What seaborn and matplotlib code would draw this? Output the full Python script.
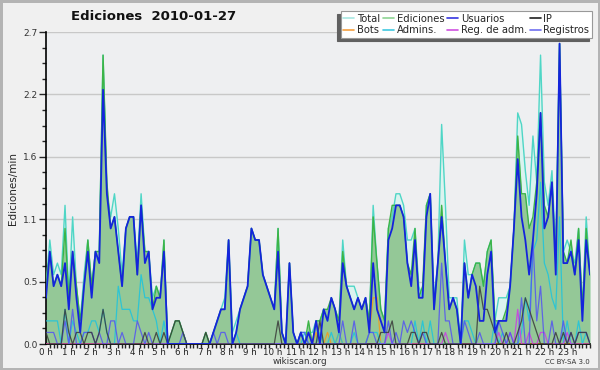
import numpy as np
import pandas as pd
import matplotlib
matplotlib.use("Agg")
import matplotlib.pyplot as plt
import seaborn as sns
from matplotlib.ticker import FixedLocator, MultipleLocator

# ---- data: edits per 10-minute slot (divided by 10 -> edits/min) ----
total = [5,9,6,7,6,12,4,11,5,2,6,9,
         5,8,8,25,13,11,13,10,6,10,11,11,
         7,13,8,8,4,5,4,9,0,1,2,2,
         1,0,0,0,0,0,1,0,1,2,3,4,
         9,1,2,3,4,5,10,9,9,6,5,4,
         3,10,1,0,7,1,0,1,1,1,1,2,
         2,3,2,4,3,2,9,5,5,5,4,3,
         4,2,12,7,3,2,10,11,13,13,12,9,
         9,10,5,4,12,13,4,7,19,12,4,4,
         4,0,9,6,6,7,7,5,8,9,2,4,
         4,4,5,10,20,19,15,12,18,14,25,14,
         12,15,8,26,8,9,8,7,10,3,11,6]
ediciones = [5,8,5,6,5,10,4,8,5,2,5,9,
             5,8,8,25,14,10,11,8,5,10,11,11,
             6,12,8,8,3,5,4,9,0,1,2,2,
             1,0,0,0,0,0,1,0,1,2,3,3,
             9,0,1,3,4,5,10,9,9,6,5,4,
             3,10,1,0,7,1,0,1,0,2,0,2,
             2,3,3,4,3,2,8,5,4,3,4,3,
             4,2,11,7,3,2,10,12,12,12,11,7,
             6,10,4,5,12,13,3,7,12,7,3,4,
             3,0,7,4,6,7,7,5,8,9,2,2,
             2,3,5,10,18,13,13,10,11,14,20,12,
             11,14,7,26,8,7,9,6,10,3,10,6]
usuarios = [4,8,5,6,5,7,3,8,4,1,5,8,
            4,8,7,22,13,10,11,8,5,10,11,11,
            6,12,7,8,3,4,4,8,0,0,0,0,
            0,0,0,0,0,0,0,0,1,2,3,3,
            9,0,1,3,4,5,10,9,9,6,5,4,
            3,8,1,0,7,1,0,1,0,1,0,2,
            0,3,2,4,3,1,7,5,4,3,4,3,
            4,1,7,3,2,1,9,10,12,12,11,7,
            5,9,4,4,11,13,3,7,11,7,3,4,
            3,0,7,4,6,5,2,2,6,8,1,2,
            2,2,5,10,16,11,9,6,9,13,20,10,
            11,14,6,26,7,7,8,6,9,2,9,6]
ip = [1,0,0,0,0,3,1,0,1,1,0,1,
      1,0,1,3,1,0,0,0,0,0,0,0,
      0,0,1,0,0,1,0,1,0,1,2,2,
      1,0,0,0,0,0,1,0,0,0,0,0,
      0,0,0,0,0,0,0,0,0,0,0,0,
      0,2,0,0,0,0,0,0,0,0,0,0,
      2,0,0,0,0,0,0,0,0,0,0,0,
      0,0,0,0,1,1,1,2,0,0,0,0,
      1,1,0,1,1,0,0,0,1,0,0,0,
      0,0,0,0,0,0,5,3,3,2,1,0,
      0,1,0,0,1,2,4,3,2,1,0,0,
      0,0,1,0,1,0,1,0,1,1,1,0]
bots = [0]*69 + [1,0,1,0,0,1,0,0,1] + [0]*7 + [1,4,4] + [0]*56
admins = [2,2,2,2,0,3,0,2,1,0,1,1,
          2,2,1,3,1,0,0,5,3,3,3,2,
          2,6,4,4,3,2,0,2,0,0,0,0,
          0,0,0,0,0,0,0,0,0,0,0,0,
          0,0,1,0,0,0,0,0,0,0,0,0,
          0,0,0,0,0,0,0,0,1,0,0,0,
          1,0,0,1,0,1,0,0,0,1,0,0,
          0,1,1,1,0,0,0,0,0,0,0,0,
          0,2,0,2,0,2,0,0,0,0,0,0,
          0,0,2,2,1,0,0,0,0,0,2,0,
          1,0,0,0,0,1,4,2,8,9,14,7,
          6,4,3,11,0,2,0,0,2,0,1,0]
reg_adm = [0]*144
for k, v in {90:1, 105:1, 119:1, 122:1, 124:3, 127:1, 130:1, 131:1, 137:1}.items():
    reg_adm[k] = v
registros = [1,1,1,0,0,2,0,3,0,0,1,1,
             1,0,1,0,0,2,2,0,1,0,0,0,
             2,1,0,1,0,0,0,0,0,0,0,0,
             1,0,0,0,0,0,0,0,1,0,1,1,
             0,0,0,0,0,0,0,0,0,0,0,0,
             0,0,0,0,0,0,0,1,1,0,0,0,
             0,0,0,0,0,0,2,0,0,2,0,0,
             0,1,1,0,0,0,2,0,1,0,2,1,
             2,1,0,1,0,0,0,0,7,2,2,0,
             0,0,2,1,0,0,1,0,0,0,0,2,
             1,0,1,0,0,4,0,0,9,2,5,0,
             0,2,0,0,2,0,1,0,1,1,1,0]

hour_labels = [f"{h} h" for h in range(24)]
ytick_vals = [0.0, 0.54, 1.08, 1.62, 2.16, 2.7]
ytick_labels = ["0.0", "0.5", "1.1", "1.6", "2.2", "2.7"]

n = len(total)
hours = np.linspace(0, 24, n)
df = pd.DataFrame({
    "h": hours,
    "Total": np.array(total) / 10,
    "Ediciones": np.array(ediciones) / 10,
    "Usuarios": np.array(usuarios) / 10,
    "IP": np.array(ip) / 10,
    "Bots": np.array(bots) / 10,
    "Admins.": np.array(admins) / 10,
    "Reg. de adm.": np.array(reg_adm) / 10,
    "Registros": np.array(registros) / 10,
})

sns.set_theme(style="white")
plt.rcParams['font.family'] = ['DejaVu Sans']

fig = plt.figure(figsize=(6.0, 3.7), dpi=100)
fig.patch.set_facecolor('#f0f0f0')
fig.patch.set_edgecolor('#b4b4b4')
fig.patch.set_linewidth(2.5)
ax = fig.add_axes([46/600, 1-344/370, (590-46)/600, (344-32)/370])
ax.set_facecolor('#eeeff1')

colors = {
    "Total": '#4fd6c6', "Ediciones": '#3cb447', "Usuarios": '#1424dc',
    "IP": '#3a3a3a', "Bots": '#f59a1c', "Admins.": '#1cc4de',
    "Reg. de adm.": '#cc3ae6', "Registros": '#5454f2',
}
legend_colors = {
    "Total": '#a8e8e2', "Ediciones": '#8ed493', "Usuarios": '#3535e0',
    "IP": '#202020', "Bots": '#f5a040', "Admins.": '#40c8e0',
    "Reg. de adm.": '#d050e0', "Registros": '#7070f0',
}

for y in ytick_vals[1:]:
    ax.axhline(y, color='#c8c8c8', lw=1.0, zorder=0)

ax.fill_between(df["h"], 0, df["Total"], color='#dbf3ef', lw=0, zorder=1)
ax.fill_between(df["h"], 0, df["Ediciones"], color='#94c897', lw=0, zorder=2)

sns.lineplot(data=df, x="h", y="Total", color=colors["Total"], lw=1.0, ax=ax, zorder=3)
sns.lineplot(data=df, x="h", y="Ediciones", color=colors["Ediciones"], lw=1.0, ax=ax, zorder=4)
for name, lw in [("Bots", 0.9), ("Admins.", 0.9), ("Reg. de adm.", 0.9),
                 ("Registros", 0.9), ("IP", 0.9)]:
    sns.lineplot(data=df, x="h", y=name, color=colors[name], lw=lw, ax=ax,
                 zorder=5, alpha=0.85)
sns.lineplot(data=df, x="h", y="Usuarios", color=colors["Usuarios"], lw=1.3, ax=ax, zorder=6)

ax.set_xlim(0, 24)
ax.set_ylim(0, 2.7)
ax.set_xlabel("")
ax.set_ylabel("Ediciones/min", fontsize=7.5, labelpad=4)

ax.xaxis.set_major_locator(FixedLocator(range(24)))
ax.set_xticklabels(hour_labels, fontsize=6.3)
ax.xaxis.set_minor_locator(MultipleLocator(1/6))
ax.yaxis.set_major_locator(FixedLocator(ytick_vals))
ax.set_yticklabels(ytick_labels, fontsize=6.5)
ax.yaxis.set_minor_locator(MultipleLocator(0.135))
ax.tick_params(axis='x', which='major', length=2.8, width=1, pad=0.3, colors='black', labelcolor='#222')
ax.tick_params(axis='x', which='minor', length=2.8, width=1, bottom=True)
ax.tick_params(axis='y', which='major', length=5, width=1, pad=1, left=True, labelcolor='#333')
ax.tick_params(axis='y', which='minor', length=3, width=1, left=True)
for s in ['top', 'right']:
    ax.spines[s].set_visible(False)
for s in ['left', 'bottom']:
    ax.spines[s].set_color('black')
    ax.spines[s].set_linewidth(1.2)

fig.text(154/600, 1-16/370, "Ediciones  2010-01-27", ha='center', va='center',
         fontsize=9.5, fontweight='bold', color='#111')
fig.text(300/600, 1-362/370, "wikiscan.org", ha='center', va='center', fontsize=6.3, color='#333')
fig.text(590/600, 1-362/370, "CC BY-SA 3.0", ha='right', va='center', fontsize=5, color='#333')

order = ["Total", "Bots", "Ediciones", "Admins.", "Usuarios", "Reg. de adm.", "IP", "Registros"]
handles = [plt.Line2D([], [], color=legend_colors[k], lw=1.2) for k in order]
leg = fig.legend(handles, order, loc='upper right', ncol=4,
                 bbox_to_anchor=(592/600, 1-11/370), bbox_transform=fig.transFigure,
                 fontsize=7.2, frameon=True, fancybox=False,
                 shadow={'ox': -2.5, 'oy': -2.5, 'color': '#606060', 'alpha': 1},
                 handlelength=1.1, handletextpad=0.3, columnspacing=0.25,
                 labelspacing=0.15, borderpad=0.25, borderaxespad=0)
leg.get_frame().set_facecolor('white')
leg.get_frame().set_edgecolor('#999999')
leg.get_frame().set_linewidth(0.8)

fig.savefig("out.png", dpi=100, facecolor=fig.get_facecolor(), edgecolor=fig.get_edgecolor())
